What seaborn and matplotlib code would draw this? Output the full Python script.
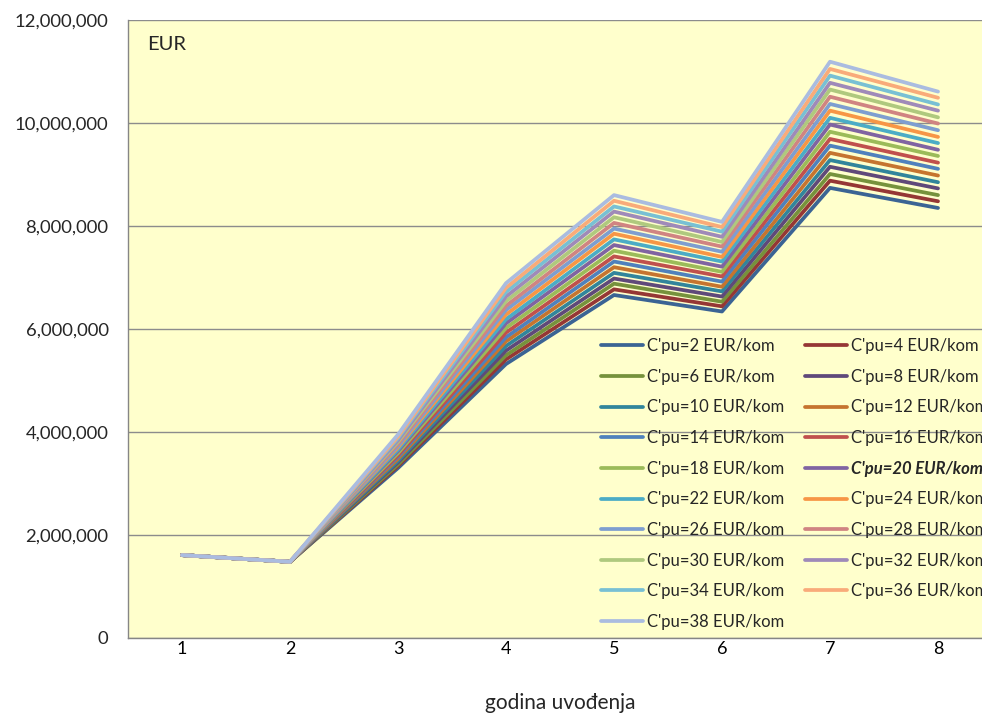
import numpy as np
import pandas as pd
import seaborn as sns
import matplotlib.pyplot as plt
from matplotlib.lines import Line2D
from matplotlib.ticker import FuncFormatter, FixedLocator

# years of introduction
years = [1, 2, 3, 4, 5, 6, 7, 8]

# unit cost C'pu (EUR/kom) for each series
cpu = [2, 4, 6, 8, 10, 12, 14, 16, 18, 20, 22, 24, 26, 28, 30, 32, 34, 36, 38]

# values, EUR
s02 = [1610000, 1480000, 3300000, 5320000, 6660000, 6340000, 8740000, 8350000]
s04 = [1610000, 1480000, 3340000, 5410000, 6770000, 6440000, 8880000, 8480000]
s06 = [1610000, 1480000, 3370000, 5490000, 6880000, 6530000, 9010000, 8600000]
s08 = [1610000, 1480000, 3410000, 5580000, 6980000, 6630000, 9150000, 8730000]
s10 = [1610000, 1480000, 3440000, 5670000, 7090000, 6730000, 9280000, 8850000]
s12 = [1610000, 1480000, 3480000, 5760000, 7200000, 6820000, 9420000, 8980000]
s14 = [1610000, 1480000, 3520000, 5840000, 7310000, 6920000, 9560000, 9110000]
s16 = [1610000, 1480000, 3550000, 5930000, 7410000, 7020000, 9690000, 9230000]
s18 = [1610000, 1480000, 3590000, 6020000, 7520000, 7110000, 9830000, 9360000]
s20 = [1610000, 1480000, 3630000, 6110000, 7630000, 7210000, 9970000, 9480000]
s22 = [1610000, 1480000, 3660000, 6190000, 7740000, 7310000, 10100000, 9610000]
s24 = [1610000, 1480000, 3700000, 6280000, 7850000, 7400000, 10240000, 9730000]
s26 = [1610000, 1480000, 3730000, 6370000, 7950000, 7500000, 10370000, 9860000]
s28 = [1610000, 1480000, 3770000, 6450000, 8060000, 7600000, 10510000, 9990000]
s30 = [1610000, 1480000, 3810000, 6540000, 8170000, 7690000, 10650000, 10110000]
s32 = [1610000, 1480000, 3840000, 6630000, 8280000, 7790000, 10780000, 10240000]
s34 = [1610000, 1480000, 3880000, 6720000, 8380000, 7890000, 10920000, 10360000]
s36 = [1610000, 1480000, 3910000, 6800000, 8490000, 7980000, 11050000, 10490000]
s38 = [1610000, 1480000, 3950000, 6890000, 8600000, 8080000, 11190000, 10610000]

series = [s02, s04, s06, s08, s10, s12, s14, s16, s18, s20,
          s22, s24, s26, s28, s30, s32, s34, s36, s38]

colors = ['#3B6494', '#953735', '#76923C', '#5F497A', '#31859C', '#C5742F',
          '#4F81BD', '#C0504D', '#9BBB59', '#8064A2', '#4BACC6', '#F79646',
          '#7E9ED0', '#D08482', '#AFC97E', '#9F8AB9', '#78C0D4', '#F9AB7A',
          '#AABCE0']

labels = [f"C'pu={c} EUR/kom" for c in cpu]

rows = []
for lab, vals in zip(labels, series):
    for yr, v in zip(years, vals):
        rows.append({'godina': yr, 'EUR': v, 'serija': lab})
df = pd.DataFrame(rows)

sns.set_style('white')
plt.rcParams['font.family'] = ['Lato', 'DejaVu Sans']

fig = plt.figure(figsize=(9.82, 7.13), dpi=100)
ax = fig.add_axes([128 / 982, 1 - 638 / 713, 864 / 982, 618 / 713])
ax.set_facecolor('#FFFFCC')

sns.lineplot(data=df, x='godina', y='EUR', hue='serija', hue_order=labels,
             palette=colors, linewidth=2.7, estimator=None, legend=False, ax=ax)

ax.set_xlim(0.5, 8.5)
ax.set_ylim(0, 12000000)
ax.set_yticks(np.arange(0, 12000001, 2000000))
ax.yaxis.set_major_formatter(FuncFormatter(lambda v, p: f'{int(v):,}'))
ax.set_xticks(years)
ax.xaxis.set_minor_locator(FixedLocator(np.arange(0.5, 8.6, 1)))
ax.tick_params(axis='x', which='major', length=0, labelsize=13, pad=2, colors='#000000')
ax.tick_params(axis='x', which='minor', length=7, width=1, color='#868686', direction='out')
ax.tick_params(axis='y', which='major', length=5, width=1, color='#868686', direction='out',
               labelsize=13.3, pad=9)
ax.grid(axis='y', color='#8C8C8C', linewidth=1)
ax.set_axisbelow(True)
for sp in ['top', 'right']:
    ax.spines[sp].set_visible(False)
for sp in ['left', 'bottom']:
    ax.spines[sp].set_color('#868686')
    ax.spines[sp].set_linewidth(1)

ax.set_xlabel('godina uvođenja', fontsize=15, labelpad=26)
ax.set_ylabel('')
ax.text(0.022, 0.96, 'EUR', transform=ax.transAxes, fontsize=14.5, va='center', ha='left')

# legend filled row by row like the original (2 columns)
handles = [Line2D([0], [0], color=c, linewidth=2.7) for c in colors]
order = list(range(0, 19, 2)) + list(range(1, 19, 2))
leg = fig.legend([handles[i] for i in order], [labels[i] for i in order],
                 ncol=2, loc='upper left', bbox_to_anchor=(601 / 982, 1 - 338 / 713),
                 frameon=False, fontsize=12, handlelength=2.5, handletextpad=0.25,
                 columnspacing=1.25, labelspacing=0.88, borderpad=0, borderaxespad=0)
for t in leg.get_texts():
    if t.get_text() == "C'pu=20 EUR/kom":
        t.set_fontweight('bold')
        t.set_fontstyle('italic')

fig.savefig('out.png', dpi=100)
